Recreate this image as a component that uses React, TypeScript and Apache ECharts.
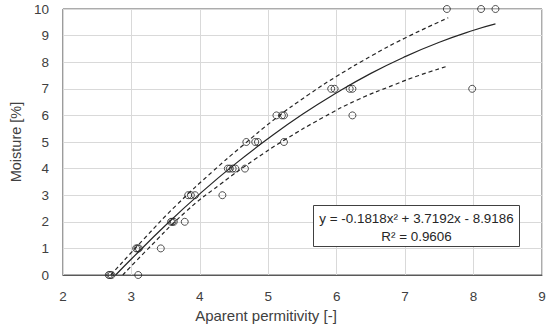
import React, { useEffect, useRef } from "react";
import * as echarts from "echarts";

const moistureLevels = [0, 1, 2, 3, 4, 5, 6, 7, 10];
const permitivityByLevel: number[][] = [
  [2.67, 2.69, 2.71, 3.1],
  [3.07, 3.09, 3.11, 3.43],
  [3.58, 3.6, 3.62, 3.78],
  [3.83, 3.87, 3.93, 4.33],
  [4.41, 4.44, 4.48, 4.52, 4.66],
  [4.68, 4.81, 4.85, 5.23],
  [5.12, 5.2, 5.23, 6.23],
  [5.92, 5.97, 6.19, 6.23, 7.98],
  [7.61, 8.11, 8.32],
];

const fitX = [2.77, 3.0, 3.5, 4.0, 4.5, 5.0, 5.5, 6.0, 6.5, 7.0, 7.5, 8.0, 8.32];
const fitY = [0, 0.6, 1.87, 3.05, 4.14, 5.13, 6.04, 6.85, 7.58, 8.21, 8.75, 9.2, 9.44];

const upperX = [2.7, 3.2, 3.66, 4.2, 4.6, 5.1, 5.6, 6.0, 6.53, 7.0, 7.63];
const upperY = [0, 1.4, 2.63, 3.92, 4.81, 5.87, 6.8, 7.47, 8.27, 8.91, 9.67];

const lowerX = [2.875, 3.2, 3.8, 4.3, 4.8, 5.24, 5.8, 6.3, 6.85, 7.2, 7.63];
const lowerY = [0, 0.87, 2.39, 3.41, 4.34, 5.08, 5.92, 6.58, 7.16, 7.5, 7.86];

const equationText = "y = -0.1818x² + 3.7192x - 8.9186";
const r2Text = "R² = 0.9606";

const FONT = "Liberation Sans";

export default function App() {
  const ref = useRef<HTMLDivElement>(null);
  useEffect(() => {
    if (!ref.current) return;
    document.body.style.margin = "0";
    const chart = echarts.init(ref.current, undefined, { renderer: "svg" });
    const points: number[][] = [];
    moistureLevels.forEach((m, i) => permitivityByLevel[i].forEach((x) => points.push([x, m])));
    const zip = (xs: number[], ys: number[]) => xs.map((x, i) => [x, ys[i]]);
    chart.setOption({
      animation: false,
      backgroundColor: "#fff",
      textStyle: { fontFamily: FONT },
      grid: {
        left: 54,
        right: 8,
        top: 9,
        bottom: 50,
        show: true,
        borderColor: "#595959",
        borderWidth: 1,
      },
      xAxis: {
        type: "value",
        min: 2,
        max: 9,
        interval: 1,
        axisLine: { show: true, onZero: false, lineStyle: { color: "#595959" } },
        axisTick: { show: false },
        axisLabel: { fontSize: 13.5, color: "#404040", margin: 14, fontFamily: FONT },
        splitLine: { show: true, lineStyle: { color: "#d9d9d9" } },
      },
      yAxis: {
        type: "value",
        min: 0,
        max: 10,
        interval: 1,
        name: "Moisture [%]",
        nameLocation: "middle",
        nameGap: 34,
        nameTextStyle: { fontSize: 14.5, color: "#404040", fontFamily: FONT },
        axisLine: { show: false },
        axisTick: { show: false },
        axisLabel: { fontSize: 13.5, color: "#404040", margin: 14, fontFamily: FONT },
        splitLine: { show: true, lineStyle: { color: "#d9d9d9" } },
      },
      graphic: [
        {
          type: "text",
          x: 266,
          y: 315,
          style: {
            text: "Aparent permitivity [-]",
            fontSize: 15,
            fill: "#404040",
            fontFamily: FONT,
            align: "center",
            verticalAlign: "middle",
          },
        },
        {
          type: "rect",
          shape: { x: 313.5, y: 205.5, width: 206, height: 41 },
          style: { fill: "#fff", stroke: "#404040", lineWidth: 1 },
          z: 100,
        },
        {
          type: "text",
          x: 416.5,
          y: 218,
          style: {
            text: equationText,
            fontSize: 13.4,
            fill: "#262626",
            align: "center",
            verticalAlign: "middle",
            fontFamily: FONT,
          },
          z: 101,
        },
        {
          type: "text",
          x: 416.5,
          y: 236,
          style: {
            text: r2Text,
            fontSize: 13.4,
            fill: "#262626",
            align: "center",
            verticalAlign: "middle",
            fontFamily: FONT,
          },
          z: 101,
        },
      ],
      series: [
        {
          type: "line",
          data: zip(fitX, fitY),
          smooth: true,
          showSymbol: false,
          lineStyle: { color: "#262626", width: 1.2 },
        },
        {
          type: "line",
          data: zip(upperX, upperY),
          smooth: true,
          showSymbol: false,
          lineStyle: { color: "#262626", width: 1.2, type: [4, 3] },
        },
        {
          type: "line",
          data: zip(lowerX, lowerY),
          smooth: true,
          showSymbol: false,
          lineStyle: { color: "#262626", width: 1.2, type: [4, 3] },
        },
        {
          type: "scatter",
          data: points,
          symbol: "circle",
          symbolSize: 7,
          clip: false,
          itemStyle: { color: "rgba(255,255,255,0)", borderColor: "#262626", borderWidth: 1 },
          z: 5,
        },
      ],
    });
    return () => chart.dispose();
  }, []);
  return <div ref={ref} style={{ width: 550, height: 325 }} />;
}
